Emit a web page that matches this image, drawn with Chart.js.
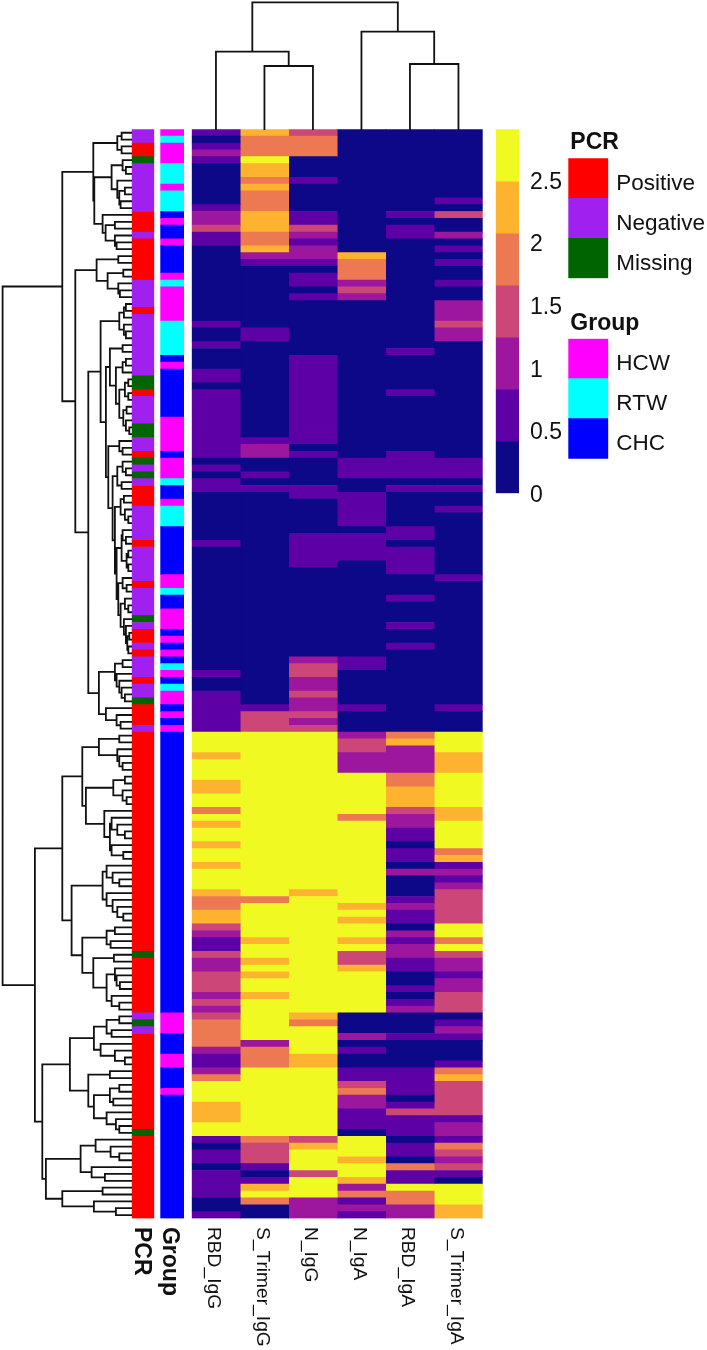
<!DOCTYPE html>
<html>
<head>
<meta charset="utf-8">
<title>Antibody heatmap</title>
<script src="https://cdn.jsdelivr.net/npm/chart.js@4/dist/chart.umd.min.js"></script>
<style>
  html, body { margin: 0; padding: 0; background: #fff; }
  #page { position: relative; width: 707px; height: 1350px; overflow: hidden; filter: blur(0.4px); }
  #page canvas { position: absolute; }
</style>
</head>
<body>
<div id="page"></div>
<script>
// every series is [value, number of rows it holds], top row first
var antibodies = ["RBD_IgG", "S_Trimer_IgG", "N_IgG", "N_IgA", "RBD_IgA", "S_Trimer_IgA"];
var rowCount = 159;

var rbdIgG = [[.6,1],[.2,1],[.6,1],[1,1],[.6,1],[.2,6],[.6,1],[1,2],[1.45,1],[.6,2],[.2,11],[.6,1],[.2,2],[.6,1],[.2,3],[.6,2],[.2,1],[.6,10],[.2,1],[.6,1],[.2,1],[.6,2],[.2,7],[.6,1],[.2,18],[.6,1],[.2,2],[.6,6],
  [2.7,3],[2.3,1],[2.7,3],[2.3,2],[2.7,2],[1.9,1],[2.7,1],[2.3,1],[2.7,2],[2.3,1],[2.7,2],[2.3,1],[2.7,3],[2.3,1],[1.9,2],[2.3,2],[1.45,1],[1,1],[.6,2],[1.45,1],[1,2],[1.45,3],[1,1],[1.45,1],[1,1],[1.45,1],[1.9,4],[1,1],[.6,2],[1,1],[1.9,1],[2.7,3],[2.3,3],[2.7,2],[.6,1],[.2,1],[.6,2],[.2,1],[.6,4],[.2,2],[.6,1]];
var sTrimerIgG = [[2.3,1],[1.9,3],[2.7,1],[2.3,2],[1.9,1],[2.3,1],[1.9,3],[2.3,3],[1.9,2],[2.3,1],[1,1],[.6,1],[.2,9],[.6,2],[.2,14],[.6,1],[1,2],[.2,2],[.6,1],[.2,1],[.6,1],[.2,31],[.6,1],[1.45,3],
  [2.7,24],[1.9,1],[2.7,5],[2.3,1],[2.7,2],[2.3,1],[2.7,1],[2.3,1],[2.7,2],[2.3,1],[2.7,6],[1,1],[1.9,3],[2.7,10],[1.9,1],[1.45,3],[.6,1],[.2,1],[.6,1],[2.3,1],[2.7,1],[1.9,1],[.2,2]];
var nIgG = [[1.45,1],[1.9,3],[.2,3],[.6,1],[.2,4],[.6,2],[1.45,1],[1,1],[.6,1],[1,2],[.6,1],[.2,1],[.6,2],[.2,1],[.6,1],[.2,8],[.6,13],[.2,1],[.6,1],[.2,4],[.6,2],[.2,5],[.6,5],[.2,13],[1,1],[1.45,2],[1,2],[1.45,1],[1,2],[1.45,1],[1,1],[1.45,1],
  [2.7,23],[2.3,1],[2.7,17],[2.3,1],[1.9,1],[2.7,4],[2.3,2],[2.7,10],[1.45,1],[2.3,1],[2.7,3],[1.45,1],[2.7,3],[1,3]];
var nIgA = [[.2,18],[2.3,1],[1.9,3],[1,1],[1.45,1],[1,1],[.2,23],[.6,3],[.2,2],[.6,5],[.2,1],[.6,4],[.2,14],[.6,2],[.2,5],[.6,1],[.2,3],
  [1,1],[1.45,2],[1,3],[2.7,6],[1.9,1],[2.7,12],[2.3,1],[2.7,1],[2.3,1],[2.7,2],[2.3,1],[2.7,1],[1.45,2],[2.3,1],[2.7,6],[.2,3],[1,1],[.2,1],[.6,1],[.2,2],[.6,2],[1.45,1],[1.9,1],[1,2],[.6,3],[.2,1],[2.7,3],[2.3,1],[2.7,2],[2.3,1],[1,1],[1.9,1],[.6,1],[1,1],[.6,1]];
var rbdIgA = [[.2,12],[.6,1],[.2,1],[.6,2],[.2,16],[.6,1],[.2,5],[.6,1],[.2,8],[.6,4],[.2,1],[.6,1],[.2,5],[.6,2],[.2,1],[.6,4],[.2,3],[.6,1],[.2,3],[.6,1],[.2,2],[.6,1],[.2,12],
  [1.9,1],[2.3,1],[1,4],[1.9,2],[2.3,3],[1.45,1],[1,2],[.6,2],[.2,1],[.6,2],[.2,1],[1,1],[.2,3],[.6,1],[1,1],[.6,2],[.2,1],[1,1],[.6,1],[1,2],[.6,2],[.2,2],[.6,1],[.2,1],[.6,1],[1,1],[.2,3],[.6,1],[.2,4],[.6,4],[.2,1],[.6,1],[1.45,1],[.6,3],[.2,1],[.6,2],[.2,1],[1.9,1],[.6,2],[2.7,1],[1.9,2],[1,2]];
var sTrimerIgA = [[.2,10],[.6,1],[.2,1],[1.45,1],[.2,2],[1,1],[.2,1],[.6,1],[.2,1],[.6,1],[.2,2],[.6,1],[.2,2],[1,3],[1.45,1],[1,2],[.2,17],[.6,3],[.2,1],[.6,1],[.2,2],[.6,1],[.2,9],[.6,1],[.2,18],[.6,1],[.2,3],
  [2.7,3],[2.3,3],[2.7,5],[2.3,2],[2.7,4],[1.9,1],[2.3,1],[.6,1],[1,1],[.6,1],[1,1],[1.45,5],[2.7,2],[1.9,1],[2.7,1],[1.45,1],[1,2],[.6,1],[1,2],[1.45,3],[.2,1],[.6,1],[1,1],[.6,1],[.2,3],[.6,1],[1.9,1],[2.3,1],[1.45,5],[.6,1],[1,2],[.6,1],[1.9,1],[1.45,1],[1,1],[1.45,1],[.6,1],[.2,1],[2.7,3],[2.3,2]];
var antibodySeries = [rbdIgG, sTrimerIgG, nIgG, nIgA, rbdIgA, sTrimerIgA];

var pcrNames = ["Positive", "Negative", "Missing"];
var pcrColors = ["#ff0000", "#a020f0", "#006400"];
var pcrRuns = [["Negative",2],["Positive",2],["Missing",1],["Negative",7],["Positive",3],["Negative",1],["Positive",6],["Negative",4],["Positive",1],["Negative",9],["Missing",2],["Positive",1],["Negative",4],["Missing",2],["Negative",2],["Positive",1],["Missing",1],["Negative",1],["Missing",1],["Negative",1],["Positive",3],["Negative",5],["Positive",1],["Negative",5],["Positive",1],["Negative",4],["Missing",1],["Negative",1],["Positive",2],["Negative",1],["Positive",1],["Negative",3],["Positive",1],["Negative",2],["Missing",1],["Positive",3],["Negative",1],["Positive",32],["Missing",1],["Positive",8],["Negative",1],["Missing",1],["Negative",1],["Positive",14],["Missing",1],["Positive",12]];

var groupNames = ["HCW", "RTW", "CHC"];
var groupColors = ["#ff00ff", "#00ffff", "#0000ff"];
var groupRuns = [["HCW",1],["RTW",1],["HCW",3],["RTW",3],["HCW",1],["RTW",3],["CHC",1],["HCW",1],["CHC",2],["HCW",1],["CHC",4],["HCW",1],["RTW",1],["HCW",5],["RTW",5],["CHC",1],["HCW",1],["CHC",7],["HCW",5],["CHC",1],["HCW",3],["RTW",1],["CHC",2],["HCW",1],["RTW",3],["CHC",7],["HCW",2],["RTW",1],["CHC",2],["HCW",3],["CHC",1],["HCW",1],["CHC",1],["HCW",1],["CHC",1],["RTW",1],["HCW",1],["CHC",1],["RTW",1],["HCW",2],["CHC",1],["HCW",1],["CHC",1],["HCW",1],["CHC",41],["HCW",3],["CHC",3],["HCW",2],["CHC",3],["HCW",1],["CHC",18]];

var colorBreaks = [0, .416, .832, 1.248, 1.664, 2.08, 2.496, 2.91];
var colorBins = ["#0d0887", "#5d01a6", "#9c179e", "#cc4678", "#ed7953", "#fdb32f", "#f0f921"];
var colorTicks = [0, .5, 1, 1.5, 2, 2.5];

// dendrograms: [merge height, left, right], L is a leaf
var L = 0;
var treeA = [14.3,[10,L,L],[10,L,L]];
var treeB = [20,[9,L,[5.7,L,L]],[14.3,L,[12.3,[6.7,L,L],[11,L,L]]]];
var treeD = [29,L,[26,[16.7,L,L],[16.7,L,[15,L,L]]]];
var treeF = [35,[13.3,L,L],[24,[8.3,L,L],[13.3,L,[11.7,L,L]]]];
var treeG = [12.3,[7.7,[5.7,L,L],L],[7.7,L,[5.7,L,L]]];
var treeN = [21.7,[9,L,L],[15.7,[9,[5.7,L,L],L],[12.3,[6.7,[3.3,L,L],[3.3,L,L]],[8.3,[5,L,L],[5.7,L,[2.3,L,L]]]]]];
var treeU = [14.3,[9,L,[5.7,L,L]],[10,L,L]];
var treeW = [11,[7.7,L,L],[6.7,L,[3.3,L,L]]];
var treeY = [10,[9,L,[5.7,L,L]],[5,[3.3,L,L],[3.3,L,L]]];
var treeZ = [13.3,[9,L,[5,L,L]],[11,[6.7,L,[3.3,L,L]],[7.7,L,[5.7,L,[4.3,[2.3,L,L],[3.3,L,L]]]]]];
var treeR = [23.3,[12.3,L,[9,L,L]],[19,treeU,[16.7,treeW,[15,treeY,treeZ]]]];
var treeL = [32.7,[16.7,[9,L,L],[15,L,[12.3,L,[10,L,[6.7,L,L]]]]],[25.7,L,[15,L,[11,L,L]]]];
var treeUpper = [49.3,[32.7,[12.3,L,L],[14.3,L,[12.3,L,[9,L,L]]]],[45.7,[18.3,[6.7,L,L],[9,L,[5,L,L]]],[27.3,L,[21.7,[20,L,[14.3,L,[6.7,L,L]]],[20,L,[8.3,L,L]]]]]];
var treeMiddle = [60,[29,[25,L,[19,L,[12.3,L,L]]],[25,L,[19,L,[14.3,L,[8.3,L,L]]]]],[49.3,[25,[16.7,L,L],[21,L,L]],[38.3,[17.7,L,L],[25,[16.7,L,[15,L,[11.7,L,L]]],[20,L,[12.3,L,L]]]]]];
var treeV = [61.7,[37.7,[25,[12.3,L,L],[20,L,L]],[31,L,[16.7,L,[6.7,L,L]]]],[43.3,[21.7,L,L],[37.7,[21.7,[12.3,L,L],[18.3,L,L]],[25,L,[15.7,L,[12.3,L,L]]]]]];
var treeX = [85.7,[51,[36,L,[21,L,[12.3,L,L]]],[40,L,[26.7,L,L]]],[69.3,[29,L,L],[37.7,L,[15.7,L,L]]]];
var rowTree = [129,
  [69.3,[38.3,treeA,[37.3,treeB,treeD]],[56.3,treeF,[43.3,[31,treeG,[25.7,treeN,treeR]],treeL]]],
  [96.7,[69.3,treeUpper,treeMiddle],[89.3,treeV,treeX]]];
var columnTree = [127,[77.7,L,[63.3,L,L]],[97.7,L,[65.3,L,L]]];

Chart.defaults.animation = false;
Chart.defaults.font.family = '"Liberation Sans", Arial, sans-serif';
Chart.defaults.color = "#1a1a1a";
Chart.defaults.plugins.legend.display = false;
Chart.defaults.plugins.tooltip.enabled = false;

function addCanvas(left, top, width, height) {
    var c = document.createElement("canvas");
    c.width = width;
    c.height = height;
    c.style.left = left + "px";
    c.style.top = top + "px";
    document.getElementById("page").appendChild(c);
    return c;
}

function runsToBars(label, runs) {
    var row = 0;
    return runs.map(function (run) {
        var bar = { x: label, y: [row, row + run[1]], v: run[0] };
        row += run[1];
        return bar;
    });
}

function colorForValue(v) {
    for (var i = 0; i < colorBins.length; i++) {
        if (v < colorBreaks[i + 1]) return colorBins[i];
    }
    return colorBins[colorBins.length - 1];
}

function treePoints(tree, horizontal) {
    var out = [];
    var next = 0;
    function pt(pos, h) {
        return horizontal ? { x: h, y: pos } : { x: pos, y: h };
    }
    function walk(node) {
        if (node === L) {
            next++;
            return { pos: next - 0.5, h: 0 };
        }
        var a = walk(node[1]);
        var b = walk(node[2]);
        out.push(pt(a.pos, a.h), pt(a.pos, node[0]), pt(b.pos, node[0]), pt(b.pos, b.h), { x: NaN, y: NaN });
        return { pos: (a.pos + b.pos) / 2, h: node[0] };
    }
    walk(tree);
    return out;
}

// rotated column names, read top to bottom under the cells
var columnLabels = {
    id: "columnLabels",
    afterDraw: function (chart, args, opts) {
        var xs = chart.scales.x;
        var ctx = chart.ctx;
        ctx.save();
        ctx.font = opts.font;
        ctx.fillStyle = "#111";
        ctx.textAlign = "left";
        ctx.textBaseline = "middle";
        xs.ticks.forEach(function (t, i) {
            ctx.save();
            ctx.translate(xs.getPixelForTick(i) + opts.dx, chart.chartArea.bottom + opts.gap);
            ctx.rotate(Math.PI / 2);
            ctx.fillText(xs.getLabelForValue(t.value), 0, 0);
            ctx.restore();
        });
        ctx.restore();
    },
};

var legendHeading = {
    id: "legendHeading",
    afterDraw: function (chart, args, opts) {
        var ctx = chart.ctx;
        ctx.save();
        ctx.font = 'bold 23px "Liberation Sans", Arial, sans-serif';
        ctx.fillStyle = "#111";
        ctx.textBaseline = "middle";
        ctx.fillText(opts.text, chart.chartArea.left + 2, chart.chartArea.top - 15.5);
        ctx.restore();
    },
};

function cellChart(canvas, labels, datasets, padding, labelOpts) {
    return new Chart(canvas, {
        type: "bar",
        data: { labels: labels, datasets: datasets },
        options: {
            responsive: false,
            layout: { padding: padding },
            plugins: { columnLabels: labelOpts },
            scales: {
                x: { display: false, offset: true, ticks: { autoSkip: false } },
                y: { display: false, reverse: true, min: 0, max: rowCount },
            },
        },
        plugins: [columnLabels],
    });
}

function barStyle(color) {
    return {
        backgroundColor: color,
        borderWidth: 0,
        grouped: false,
        barPercentage: 1,
        categoryPercentage: 1,
    };
}

function treeChart(canvas, points, padding, xScale, yScale) {
    return new Chart(canvas, {
        type: "scatter",
        data: {
            datasets: [{
                data: points,
                showLine: true,
                spanGaps: false,
                pointRadius: 0,
                borderColor: "#111",
                borderWidth: 1.8,
                borderCapStyle: "square",
                borderJoinStyle: "miter",
                tension: 0,
                clip: false,
            }],
        },
        options: {
            responsive: false,
            layout: { padding: padding },
            scales: { x: xScale, y: yScale },
        },
    });
}

// heatmap body
cellChart(
    addCanvas(191, 129, 292, 1221),
    antibodies,
    antibodies.map(function (name, i) {
        return Object.assign({ label: name, data: runsToBars(name, antibodySeries[i]) }, barStyle(function (ctx) {
            return colorForValue(ctx.raw.v);
        }));
    }),
    { left: 0.7, right: 0.3, top: 0.3, bottom: 131.55 },
    { font: '19.2px "Liberation Sans", Arial, sans-serif', dx: -2.4, gap: 8.5 }
);

// PCR strip
cellChart(
    addCanvas(126, 129, 34, 1221),
    ["PCR"],
    [Object.assign({ label: "PCR", data: runsToBars("PCR", pcrRuns) }, barStyle(function (ctx) {
        return pcrColors[pcrNames.indexOf(ctx.raw.v)];
    }))],
    { left: 5.7, right: 5.7, top: 0.3, bottom: 131.55 },
    { font: 'bold 23px "Liberation Sans", Arial, sans-serif', dx: -1.5, gap: 8.5 }
);

// Group strip
cellChart(
    addCanvas(155, 129, 34, 1221),
    ["Group"],
    [Object.assign({ label: "Group", data: runsToBars("Group", groupRuns) }, barStyle(function (ctx) {
        return groupColors[groupNames.indexOf(ctx.raw.v)];
    }))],
    { left: 5.3, right: 5, top: 0.3, bottom: 131.55 },
    { font: 'bold 23px "Liberation Sans", Arial, sans-serif', dx: -2.5, gap: 8.5 }
);

// row dendrogram, height grows to the left
treeChart(
    addCanvas(1, 129, 131, 1090),
    treePoints(rowTree, true),
    { left: 0.6, right: 0.4, top: 0.3, bottom: 0.55 },
    { type: "linear", display: false, reverse: true, min: 0, max: 130 },
    { type: "linear", display: false, reverse: true, min: 0, max: rowCount }
);

// column dendrogram
treeChart(
    addCanvas(191, 0, 292, 130),
    treePoints(columnTree, false),
    { left: 0.7, right: 0.3, top: 0, bottom: 0.7 },
    { type: "linear", display: false, min: 0, max: antibodies.length },
    { type: "linear", display: false, min: 0, max: 129.3 }
);

// colour key
new Chart(addCanvas(495, 129, 70, 382), {
    type: "bar",
    data: {
        labels: ["key"],
        datasets: [Object.assign({
            label: "key",
            data: colorBins.map(function (c, i) {
                return { x: "key", y: [colorBreaks[i], colorBreaks[i + 1]], v: c };
            }),
        }, barStyle(function (ctx) { return ctx.raw.v; }))],
    },
    options: {
        responsive: false,
        layout: { padding: { left: 0.7, top: 0.3, bottom: 17.7 } },
        scales: {
            x: { display: false, offset: true },
            y: {
                position: "right",
                min: 0,
                max: colorBreaks[colorBreaks.length - 1],
                grid: { display: false, drawTicks: false },
                border: { display: false },
                afterBuildTicks: function (scale) {
                    scale.ticks = colorTicks.map(function (v) { return { value: v }; });
                },
                afterFit: function (scale) {
                    scale.width = 46;
                    scale.paddingTop = 0;
                    scale.paddingBottom = 0;
                },
                ticks: {
                    font: { size: 23 },
                    color: "#111",
                    padding: 11,
                    labelOffset: 2,
                    callback: function (v) { return String(v); },
                },
            },
        },
    },
});

function legendChart(top, paddingTop, title, names, colors) {
    return new Chart(addCanvas(568, top, 139, 160), {
        type: "bar",
        data: {
            labels: names,
            datasets: [{
                label: title,
                data: names.map(function () { return 1; }),
                backgroundColor: colors,
                borderWidth: 0,
                barPercentage: 1,
                categoryPercentage: 1,
            }],
        },
        options: {
            responsive: false,
            indexAxis: "y",
            layout: { padding: { left: 0.3, top: paddingTop, bottom: 160 - paddingTop - 120 } },
            plugins: { legendHeading: { text: title } },
            scales: {
                x: { display: false, min: 0, max: 1 },
                y: {
                    position: "right",
                    grid: { display: false, drawTicks: false },
                    border: { display: false },
                    afterFit: function (scale) {
                        scale.width = 98.7;
                        scale.paddingTop = 0;
                        scale.paddingBottom = 0;
                    },
                    ticks: { font: { size: 22.5 }, color: "#111", padding: 8, labelOffset: 5 },
                },
            },
        },
        plugins: [legendHeading],
    });
}

legendChart(129, 29.3, "PCR", pcrNames, pcrColors);
legendChart(309, 29.7, "Group", groupNames, groupColors);
</script>
</body>
</html>
